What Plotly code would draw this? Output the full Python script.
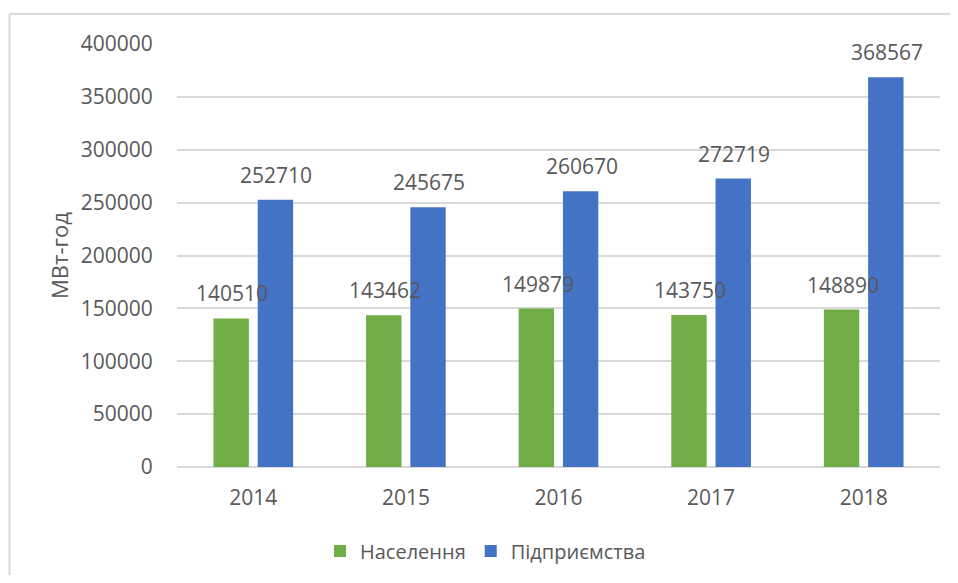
import plotly.graph_objects as go

years = ["2014", "2015", "2016", "2017", "2018"]
naselennia = [140510, 143462, 149879, 143750, 148890]
pidpryiemstva = [252710, 245675, 260670, 272719, 368567]
series_names = ["Населення", "Підприємства"]
y_ticks = [0, 50000, 100000, 150000, 200000, 250000, 300000, 350000, 400000]

GREEN = "#70AD47"
BLUE = "#4472C4"
TXT = "#595959"
GRID = "#D9D9D9"
FONT = "Open Sans, Liberation Sans, sans-serif"

fig = go.Figure()
fig.add_trace(go.Bar(x=years, y=naselennia, name=series_names[0],
                     marker=dict(color=GREEN, line=dict(width=0))))
fig.add_trace(go.Bar(x=years, y=pidpryiemstva, name=series_names[1],
                     marker=dict(color=BLUE, line=dict(width=0))))

annotations = []
for i, v in enumerate(naselennia):
    annotations.append(dict(x=i, y=v, xref="x", yref="y", text=str(v),
                            showarrow=False, xshift=-21, yshift=25,
                            yanchor="middle", xanchor="center",
                            font=dict(family=FONT, size=21, color=TXT)))
for i, v in enumerate(pidpryiemstva):
    annotations.append(dict(x=i, y=v, xref="x", yref="y", text=str(v),
                            showarrow=False, xshift=23, yshift=25,
                            yanchor="middle", xanchor="center",
                            font=dict(family=FONT, size=21, color=TXT)))

# page body has an 8px offset; positions below are in screenshot pixels
OFF = 8
W, H = 950, 567
L, T = 177 - OFF, 44 - OFF
R, B = W - (940 - OFF), H - (467 - OFF)
pw, ph = W - L - R, H - T - B

def px_x(p):
    return (p - OFF - L) / pw

def px_y(p):
    return (H - B - (p - OFF)) / ph

border = dict(color=GRID, width=2)
fig.update_layout(
    width=W, height=H,
    margin=dict(l=L, r=R, t=T, b=B, autoexpand=False),
    paper_bgcolor="white", plot_bgcolor="white",
    barmode="group", bargap=0.42, bargroupgap=0.2,
    font=dict(family=FONT, color=TXT),
    annotations=annotations,
    showlegend=True,
    legend=dict(orientation="h", x=px_x(320), y=px_y(551),
                xanchor="left", yanchor="middle",
                font=dict(family=FONT, size=20, color=TXT),
                itemwidth=30, bgcolor="rgba(0,0,0,0)"),
    shapes=[
        dict(type="line", xref="paper", yref="paper",
             x0=px_x(9.5), x1=px_x(1000), y0=px_y(14), y1=px_y(14),
             line=border, layer="below"),
        dict(type="line", xref="paper", yref="paper",
             x0=px_x(9.5), x1=px_x(9.5), y0=px_y(14), y1=px_y(640),
             line=border, layer="below"),
    ],
)
fig.update_xaxes(type="category", range=[-0.5, len(years) - 0.5],
                 showgrid=False, showline=False, zeroline=False,
                 ticks="outside", ticklen=12, tickcolor="rgba(0,0,0,0)",
                 tickfont=dict(family=FONT, size=21, color=TXT))
fig.update_yaxes(range=[0, 400000], tickvals=y_ticks,
                 ticktext=[str(t) for t in y_ticks],
                 showgrid=True, gridcolor=GRID, gridwidth=1.5,
                 zeroline=True, zerolinecolor=GRID, zerolinewidth=2,
                 showline=False,
                 ticks="outside", ticklen=19, tickcolor="rgba(0,0,0,0)",
                 tickfont=dict(family=FONT, size=21, color=TXT),
                 title=dict(text="МВт-год", standoff=6,
                            font=dict(family=FONT, size=22, color=TXT)))

fig.write_html("out.html")
